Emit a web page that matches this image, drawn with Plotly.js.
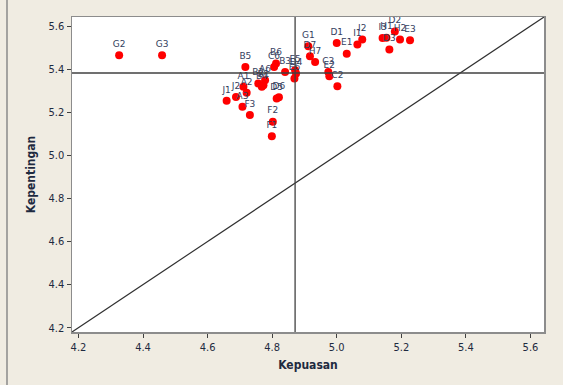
<!DOCTYPE html>
<html>
<head>
<meta charset="utf-8">
<script src="https://cdn.plot.ly/plotly-3.0.1.min.js"></script>
<style>
html,body{margin:0;padding:0;background:#f0ece2;}
#chart{width:563px;height:385px;}
</style>
</head>
<body>
<div id="chart"></div>
<script>
// Atribute labels
var labels = ["G2","G3","B5","J1","J2","A1","A2","A3","F3","B1","B2","B4","A6",
  "D5","D6","F2","F1","B6","C6","B3","E5","D4","E6","G1","D7","H7",
  "D1","E1","I1","I2","C3","E2","C2","I3","H1","D2","H2","E3","D3"];
// Kepuasan (x)
var kepuasan = [4.326,4.459,4.717,4.659,4.688,4.711,4.721,4.708,4.731,4.773,4.757,4.768,4.778,
  4.814,4.821,4.802,4.799,4.812,4.806,4.840,4.871,4.874,4.869,4.912,4.917,4.933,
  5.000,5.031,5.064,5.079,4.974,4.977,5.002,5.142,5.154,5.180,5.196,5.227,5.163];
// Kepentingan (y)
var kepentingan = [5.464,5.464,5.410,5.253,5.271,5.318,5.290,5.225,5.187,5.325,5.333,5.318,5.349,
  5.264,5.269,5.156,5.089,5.426,5.410,5.387,5.395,5.380,5.356,5.506,5.460,5.433,
  5.521,5.472,5.514,5.537,5.387,5.367,5.321,5.544,5.546,5.575,5.537,5.534,5.491];
// Reference lines: mean of x, mean of y
var meanX = 4.871;
var meanY = 5.382;
var axisRange = [4.18, 5.642];
var tickVals = [4.2,4.4,4.6,4.8,5.0,5.2,5.4,5.6];

var trace = {
  x: kepuasan, y: kepentingan, text: labels,
  mode: "markers+text", type: "scatter",
  textposition: "top center",
  textfont: {family: "DejaVu Sans", size: 9, color: "#34405e"},
  marker: {color: "#ff0000", size: 8},
  hoverinfo: "text", showlegend: false, cliponaxis: false
};
var diag = {
  x: axisRange, y: axisRange, mode: "lines", type: "scatter",
  line: {color: "#303030", width: 1.2}, showlegend: false, hoverinfo: "skip"
};

var axisCommon = {
  range: axisRange, tickvals: tickVals, tickformat: ".1f",
  ticks: "outside", ticklen: 4, tickwidth: 1, tickcolor: "#404040",
  showgrid: false, zeroline: false,
  showline: true, linecolor: "#8c8c8c", linewidth: 1.5, mirror: true,
  tickfont: {family: "DejaVu Sans Condensed", size: 11, color: "#1e2a40"}
};

var layout = {
  width: 563, height: 385,
  margin: {l: 72, r: 19, t: 17, b: 53},
  paper_bgcolor: "#f0ece2", plot_bgcolor: "#ffffff",
  xaxis: Object.assign({}, axisCommon, {
    title: {text: "Kepuasan", font: {family: "DejaVu Sans Condensed", size: 12, color: "#1e2a40", weight: "bold"}, standoff: 8}
  }),
  yaxis: Object.assign({}, axisCommon, {
    title: {text: "Kepentingan", font: {family: "DejaVu Sans Condensed", size: 12, color: "#1e2a40", weight: "bold"}, standoff: 10}
  }),
  shapes: [
    {type: "line", xref: "x", yref: "paper", x0: meanX, x1: meanX, y0: 0, y1: 1,
     line: {color: "#404040", width: 1.3}},
    {type: "line", xref: "paper", yref: "y", x0: 0, x1: 1, y0: meanY, y1: meanY,
     line: {color: "#404040", width: 1.3}},
    {type: "line", xref: "paper", yref: "paper", x0: -0.1377, x1: -0.1377, y0: -0.17, y1: 1.06,
     line: {color: "#8a8a8a", width: 1.5}}
  ]
};

Plotly.newPlot("chart", [diag, trace], layout, {displayModeBar: false, staticPlot: true});
</script>
</body>
</html>
